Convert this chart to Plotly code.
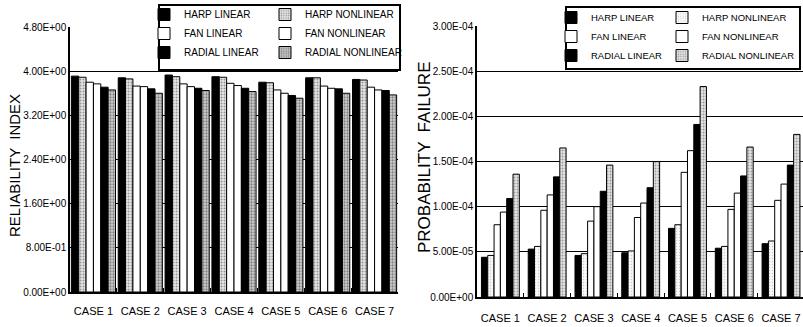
import plotly.graph_objects as go

W, H = 803, 327

cases = ["CASE 1", "CASE 2", "CASE 3", "CASE 4", "CASE 5", "CASE 6", "CASE 7"]
series_names = ["HARP LINEAR", "HARP NONLINEAR", "FAN LINEAR",
                "FAN NONLINEAR", "RADIAL LINEAR", "RADIAL NONLINEAR"]

# Reliability index (left chart)
beta_harp_lin = [3.91, 3.88, 3.93, 3.90, 3.80, 3.88, 3.85]
beta_harp_nl = [3.89, 3.86, 3.90, 3.89, 3.79, 3.88, 3.84]
beta_fan_lin = [3.80, 3.73, 3.77, 3.78, 3.66, 3.73, 3.71]
beta_fan_nl = [3.77, 3.72, 3.72, 3.74, 3.60, 3.69, 3.66]
beta_rad_lin = [3.71, 3.68, 3.69, 3.69, 3.56, 3.68, 3.65]
beta_rad_nl = [3.66, 3.60, 3.65, 3.63, 3.51, 3.60, 3.57]

# Probability of failure (right chart)
pf_harp_lin = [4.4e-5, 5.3e-5, 4.6e-5, 4.9e-5, 7.6e-5, 5.4e-5, 5.9e-5]
pf_harp_nl = [4.6e-5, 5.6e-5, 4.8e-5, 5.1e-5, 8.0e-5, 5.6e-5, 6.2e-5]
pf_fan_lin = [8.0e-5, 9.6e-5, 8.4e-5, 8.8e-5, 13.8e-5, 9.7e-5, 10.7e-5]
pf_fan_nl = [9.4e-5, 11.3e-5, 10.0e-5, 10.4e-5, 16.2e-5, 11.5e-5, 12.5e-5]
pf_rad_lin = [10.9e-5, 13.3e-5, 11.7e-5, 12.1e-5, 19.1e-5, 13.4e-5, 14.6e-5]
pf_rad_nl = [13.6e-5, 16.5e-5, 14.6e-5, 15.0e-5, 23.3e-5, 16.6e-5, 18.0e-5]

beta_ticks = [0, 0.8, 1.6, 2.4, 3.2, 4.0, 4.8]
beta_ticktext = ["0.00E+00", "8.00E-01", "1.60E+00", "2.40E+00",
                 "3.20E+00", "4.00E+00", "4.80E+00"]
pf_ticks = [0, 5e-5, 1e-4, 1.5e-4, 2e-4, 2.5e-4, 3e-4]
pf_ticktext = ["0.00E+00", "5.00E-05", "1.00E-04", "1.50E-04",
               "2.00E-04", "2.50E-04", "3.00E-04"]

beta_series = [beta_harp_lin, beta_harp_nl, beta_fan_lin,
               beta_fan_nl, beta_rad_lin, beta_rad_nl]
pf_series = [pf_harp_lin, pf_harp_nl, pf_fan_lin,
             pf_fan_nl, pf_rad_lin, pf_rad_nl]

FONT = "Liberation Sans, Arial, Helvetica, sans-serif"


def px_x(p):
    return p / W


def px_y(p):
    return 1 - p / H


def style(k, side):
    black = dict(color="black", line=dict(color="black", width=1))
    white = dict(color="white", line=dict(color="black", width=1))
    if side == "left":
        stip1 = dict(color="#d8d8d8", line=dict(color="black", width=1),
                     pattern=dict(shape=".", fgcolor="#444444", bgcolor="#e6e6e6",
                                  size=3, solidity=0.35))
        stip2 = dict(color="#b0b0b0", line=dict(color="black", width=1),
                     pattern=dict(shape=".", fgcolor="#333333", bgcolor="#d0d0d0",
                                  size=3, solidity=0.45))
    else:
        stip1 = dict(color="#f4f4f4", line=dict(color="black", width=1),
                     pattern=dict(shape=".", fgcolor="#999999", bgcolor="#f8f8f8",
                                  size=3, solidity=0.15))
        stip2 = dict(color="#d0d0d0", line=dict(color="black", width=1),
                     pattern=dict(shape=".", fgcolor="#555555", bgcolor="#e4e4e4",
                                  size=3, solidity=0.35))
    return [black, stip1, white, white, black, stip2][k]


fig = go.Figure()

# left chart
bw_l = 0.157
for k, (name, vals) in enumerate(zip(series_names, beta_series)):
    fig.add_trace(go.Bar(
        x=cases, y=vals, name=name, marker=style(k, "left"),
        width=bw_l, offset=-3 * bw_l + k * bw_l,
        xaxis="x", yaxis="y",
        legend="legend" if k % 2 == 0 else "legend2",
    ))

# right chart
bw_r = 0.135
for k, (name, vals) in enumerate(zip(series_names, pf_series)):
    fig.add_trace(go.Bar(
        x=cases, y=vals, name=name, marker=style(k, "right"),
        width=bw_r, offset=-3 * bw_r + k * bw_r,
        xaxis="x2", yaxis="y2",
        legend="legend3" if k % 2 == 0 else "legend4",
    ))

xcommon = dict(type="category", showline=True, linecolor="black", linewidth=1.5,
               ticks="inside", tickson="boundaries", ticklen=4, tickcolor="black",
               showgrid=False, tickangle=0,
               tickfont=dict(family=FONT, size=11, color="black"))
ycommon = dict(showline=True, linecolor="black", linewidth=1.5, ticks="",
               showgrid=True, gridcolor="black", gridwidth=1, zeroline=False,
               tickfont=dict(family=FONT, size=10, color="black"))

legend_common = dict(bgcolor="rgba(0,0,0,0)", borderwidth=0, orientation="v",
                     xanchor="left", yanchor="top", itemwidth=30,
                     tracegroupgap=0, itemclick=False, itemdoubleclick=False)
lfont_l = dict(family=FONT, size=10, color="black")
lfont_r = dict(family=FONT, size=9.5, color="black")

fig.update_layout(
    width=W, height=H,
    margin=dict(l=0, r=0, t=0, b=0, autoexpand=False),
    paper_bgcolor="white", plot_bgcolor="white",
    barmode="overlay",
    showlegend=True,
    hovermode=False,
    xaxis=dict(domain=[px_x(70), px_x(398)], range=[-0.5, 6.5], anchor="y",
               ticklabelstandoff=8, **xcommon),
    yaxis=dict(domain=[px_y(292), px_y(27)], range=[0, 4.8], anchor="x",
               tickvals=beta_ticks, ticktext=beta_ticktext, **ycommon),
    xaxis2=dict(domain=[px_x(477), 1.0], range=[-0.5, 6.47], anchor="y2",
                ticklabelstandoff=10, **xcommon),
    yaxis2=dict(domain=[px_y(297), px_y(26)], range=[0, 3e-4], anchor="x2",
                tickvals=pf_ticks, ticktext=pf_ticktext, **ycommon),
    legend=dict(x=px_x(144), y=px_y(0), font=lfont_l, **legend_common),
    legend2=dict(x=px_x(265), y=px_y(0), font=lfont_l, **legend_common),
    legend3=dict(x=px_x(551), y=px_y(3), font=lfont_r, **legend_common),
    legend4=dict(x=px_x(662), y=px_y(3), font=lfont_r, **legend_common),
    shapes=[
        dict(type="rect", xref="paper", yref="paper", layer="above",
             x0=px_x(159), x1=px_x(400), y0=px_y(70), y1=px_y(5),
             line=dict(color="black", width=2), fillcolor="white"),
        dict(type="rect", xref="paper", yref="paper", layer="above",
             x0=px_x(566), x1=px_x(800), y0=px_y(69), y1=px_y(7),
             line=dict(color="black", width=2), fillcolor="white"),
    ],
    annotations=[
        dict(text="RELIABILITY  INDEX", textangle=-90, xref="paper", yref="paper",
             x=px_x(14), y=px_y(166), showarrow=False, xanchor="center", yanchor="middle",
             font=dict(family=FONT, size=15, color="black")),
        dict(text="PROBABILITY  FAILURE", textangle=-90, xref="paper", yref="paper",
             x=px_x(424), y=px_y(158), showarrow=False, xanchor="center", yanchor="middle",
             font=dict(family=FONT, size=17, color="black")),
    ],
)

# remove the browser's default page margin so the figure fills the window exactly
fig.write_html(
    "out.html",
    config={"displayModeBar": False, "staticPlot": False},
    post_script="document.body.style.margin='0';document.body.style.overflow='hidden';",
)
